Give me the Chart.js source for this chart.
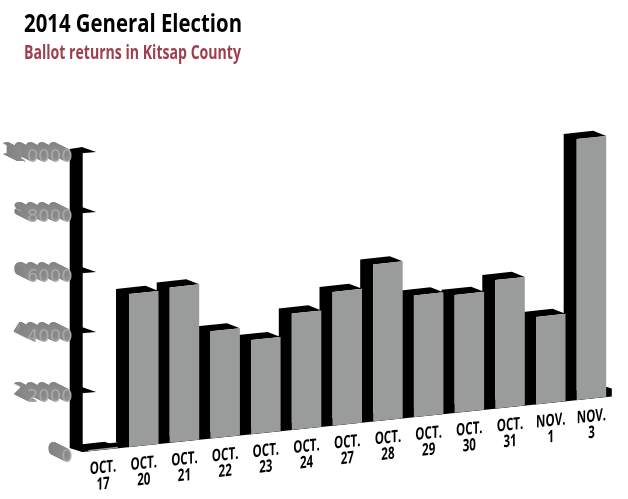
<!DOCTYPE html>
<html>
<head>
<meta charset="utf-8">
<style>html,body{margin:0;padding:0;background:#fff}#wrap{position:absolute;left:0;top:0;width:628px;height:499px}</style>
<script src="https://cdn.jsdelivr.net/npm/chart.js@4"></script>
</head>
<body>
<div id="wrap"><canvas id="c" width="628" height="499"></canvas></div>
<script>
const titleText = "2014 General Election";
const subtitleText = "Ballot returns in Kitsap County";
const categories = [["OCT.","17"],["OCT.","20"],["OCT.","21"],["OCT.","22"],["OCT.","23"],["OCT.","24"],["OCT.","27"],["OCT.","28"],["OCT.","29"],["OCT.","30"],["OCT.","31"],["NOV.","1"],["NOV.","3"]];
const ballots = [50,5105,5180,3575,3140,3885,4460,5235,4060,3935,4290,2915,8705];
const yMax = 10000;
const yStep = 2000;

const SHEAR = 0.105;
const DX = 13, DY = 6.4;   // extrusion depth of bars (in unsheared space)
const humanist = "'Open Sans','Noto Sans',sans-serif";

function applyShear(ctx, chart){
  const x0 = chart.chartArea.left;
  ctx.transform(1, -SHEAR, 0, 1, 0, SHEAR * x0);
}
function poly(ctx, pts, color){
  ctx.fillStyle = color;
  ctx.beginPath();
  pts.forEach((p,i)=> i ? ctx.lineTo(p[0],p[1]) : ctx.moveTo(p[0],p[1]));
  ctx.closePath();
  ctx.fill();
}
// run fn with text drawn horizontally condensed; sx is a factor, or fit a target width
function condensed(ctx, sx, targetWidth, fn){
  const native = CanvasRenderingContext2D.prototype.fillText;
  ctx.fillText = function(t, x, y){
    const k = targetWidth ? targetWidth / this.measureText(t).width : sx;
    this.save();
    this.translate(x, y);
    this.scale(k, 1);
    native.call(this, t, 0, 0);
    this.restore();
  };
  fn();
  delete ctx.fillText;
}

const threeD = {
  id: 'threeD',
  beforeLayout(chart){
    const xs = chart.scales.x, ys = chart.scales.y;
    if (!xs || xs._wrapped) return;
    xs._wrapped = true;
    chart.boxes.forEach(box=>{
      if (!box.options || box.options.text === undefined) return;
      const orig = box.draw;
      const width = box.options.text === titleText ? 218 : 217;
      box.draw = function(area){
        condensed(this.ctx, 1, width, ()=> orig.call(this, area));
      };
    });
    const xProto = Object.getPrototypeOf(Object.getPrototypeOf(xs)).draw;
    xs.draw = function(area){
      const ctx = this.ctx;
      ctx.save(); applyShear(ctx, chart);
      condensed(ctx, 0.68, 0, ()=> xProto.call(this, area));
      ctx.restore();
    };
    const yProto = Object.getPrototypeOf(Object.getPrototypeOf(ys)).draw;
    ys.draw = function(area){
      const ctx = this.ctx;
      const L = chart.chartArea.left, b = this.getPixelForValue(0), top = this.getPixelForValue(yMax);
      // axis post
      poly(ctx, [[L-13,top-3],[L,top-5],[L,b],[L-13,b-4]], '#000');
      // wedge tick marks
      this.ticks.forEach(t=>{
        if (t.value === 0) return;
        const p = this.getPixelForValue(t.value);
        poly(ctx, [[L-1,p-5],[L+13.5,p],[L-1,p+1.3]], '#000');
      });
      // extruded tick labels
      ctx.save();
      ctx.font = "18px 'DejaVu Sans'";
      ctx.textAlign = 'right';
      ctx.textBaseline = 'middle';
      this.ticks.forEach(t=>{
        const p = this.getPixelForValue(t.value) + 5;
        for (let i = 14; i >= 1; i--) {
          const g = 130 + Math.round((14 - i) * 0.7);
          ctx.fillStyle = `rgb(${g},${g},${g})`;
          ctx.fillText(t.label, L - 10 - i, p - i * 0.5);
        }
      });
      ctx.restore();
      yProto.call(this, area);
    };
  },
  beforeDatasetsDraw(chart){
    const ctx = chart.ctx, a = chart.chartArea, ys = chart.scales.y;
    const b = ys.getPixelForValue(0);
    ctx.save();
    applyShear(ctx, chart);
    // floor with the small block at its far end
    poly(ctx, [[a.left, b],[a.right, b],[a.right, b-8],[a.right-5, b-10],[a.left-13, b-5.5]], '#000');
    // side and top faces of each bar
    chart.getDatasetMeta(0).data.forEach(el=>{
      const hw = el.width/2, l = el.x-hw, r = el.x+hw;
      poly(ctx, [[l, el.base],[l, el.y],[r, el.y],[r-DX, el.y-DY],[l-DX, el.y-DY],[l-DX, el.base-DY]], '#000');
    });
  },
  afterDatasetsDraw(chart){
    chart.ctx.restore();
  }
};

new Chart(document.getElementById('c'), {
  type: 'bar',
  data: {
    labels: categories,
    datasets: [{
      label: 'Ballot returns',
      data: ballots,
      backgroundColor: '#9a9c9b',
      borderWidth: 0,
      barPercentage: 0.725,
      categoryPercentage: 1
    }]
  },
  plugins: [threeD],
  options: {
    responsive: false,
    animation: false,
    layout: { padding: { left: 24, right: 16.2, top: 0, bottom: 0 } },
    plugins: {
      legend: { display: false },
      tooltip: { enabled: false },
      title: {
        display: true, text: titleText, align: 'start', color: '#000',
        font: { family: humanist, size: 25, weight: 'bold', lineHeight: 1.1 },
        padding: { top: 11, bottom: 4 }
      },
      subtitle: {
        display: true, text: subtitleText, align: 'start', color: '#9c3f4e',
        font: { family: humanist, size: 20, weight: 'bold', lineHeight: 1.1 },
        padding: { top: 0, bottom: 87.5 }
      }
    },
    scales: {
      x: {
        grid: { display: false, drawTicks: false },
        border: { display: false },
        afterFit(s){ s.height = 47; },
        ticks: {
          color: '#000', autoSkip: false, maxRotation: 0, minRotation: 0, padding: 10,
          font: { family: humanist, size: 17, weight: 'bold', lineHeight: 0.96 }
        }
      },
      y: {
        min: 0, max: yMax,
        grid: { display: false, drawTicks: false },
        border: { display: false },
        afterFit(s){ s.width = 58.7; },
        ticks: {
          stepSize: yStep, color: '#a8a8a8', padding: 10, labelOffset: 5,
          callback: v => String(v),
          font: { family: "'DejaVu Sans'", size: 18 }
        }
      }
    }
  }
});
</script>
</body>
</html>
